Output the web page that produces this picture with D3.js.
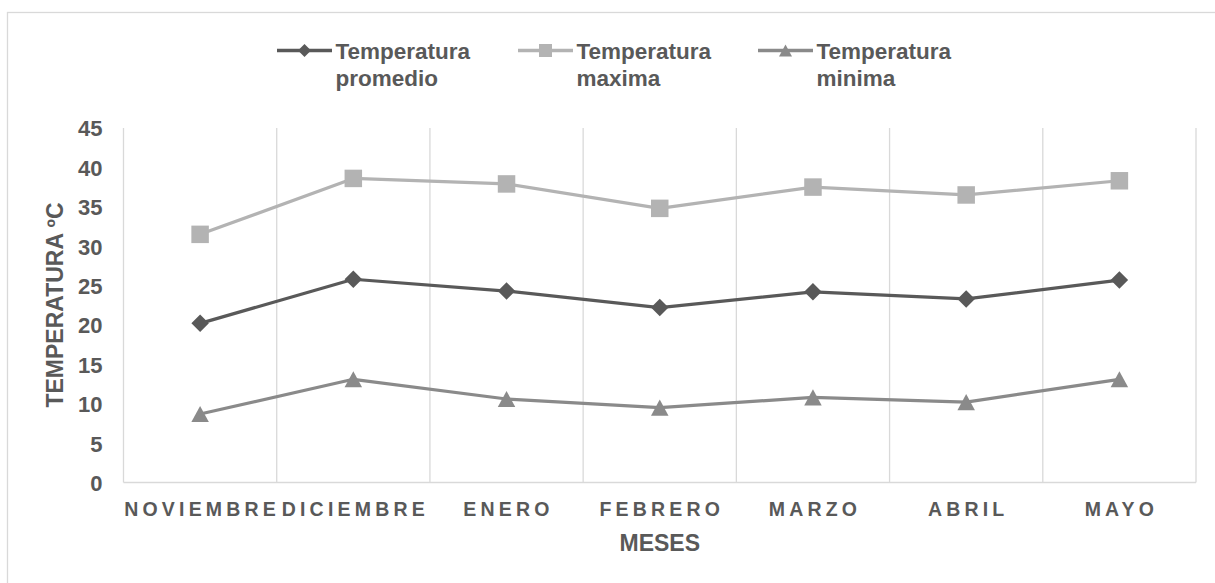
<!DOCTYPE html>
<html>
<head>
<meta charset="utf-8">
<script src="https://cdn.jsdelivr.net/npm/d3@7"></script>
<style>
  html, body { margin: 0; padding: 0; background: #fff; }
  svg { display: block; font-family: "Liberation Sans", Arial, sans-serif; }
</style>
</head>
<body>
<svg id="chart" width="1215" height="583"></svg>
<script>
// Monthly temperatures (ºC)
const meses = ["NOVIEMBRE", "DICIEMBRE", "ENERO", "FEBRERO", "MARZO", "ABRIL", "MAYO"];
const promedio = [20.2, 25.8, 24.3, 22.2, 24.2, 23.3, 25.7];
const maxima   = [31.5, 38.6, 37.9, 34.8, 37.5, 36.5, 38.3];
const minima   = [8.7, 13.1, 10.6, 9.5, 10.8, 10.2, 13.1];
const yTicks   = [0, 5, 10, 15, 20, 25, 30, 35, 40, 45];

const series = [
  { name: ["Temperatura", "promedio"], values: promedio, color: "#595959", symbol: "diamond" },
  { name: ["Temperatura", "maxima"],   values: maxima,   color: "#b3b3b3", symbol: "square" },
  { name: ["Temperatura", "minima"],   values: minima,   color: "#8a8a8a", symbol: "triangle" }
];

const textColor = "#595959";
const gridColor = "#d9d9d9";

const svg = d3.select("#chart");

// chart area frame
svg.append("rect")
  .attr("x", 7.5).attr("y", 12.5)
  .attr("width", 1240).attr("height", 620)
  .attr("fill", "none").attr("stroke", gridColor).attr("stroke-width", 1.3);

const plot = { left: 123.5, right: 1196, top: 128, bottom: 482.5 };

const x = d3.scaleBand().domain(meses).range([plot.left, plot.right]).padding(0);
const y = d3.scaleLinear().domain([0, 45]).range([plot.bottom, plot.top]);

// vertical gridlines at category boundaries
const bounds = meses.map(m => x(m)).concat([x.range()[1]]);
svg.append("g").selectAll("line").data(bounds).join("line")
  .attr("x1", d => d).attr("x2", d => d)
  .attr("y1", plot.top).attr("y2", plot.bottom)
  .attr("stroke", gridColor).attr("stroke-width", 1.3);

// horizontal axis line
svg.append("line")
  .attr("x1", plot.left).attr("x2", plot.right)
  .attr("y1", plot.bottom).attr("y2", plot.bottom)
  .attr("stroke", gridColor).attr("stroke-width", 1.5);

// y axis labels
const yAxis = d3.axisLeft(y).tickValues(yTicks).tickSize(0).tickPadding(21);
const gy = svg.append("g").attr("transform", `translate(${plot.left},0)`).call(yAxis);
gy.select(".domain").remove();
gy.selectAll("text")
  .attr("fill", textColor)
  .style("font-size", "22px").style("font-weight", "bold")
  .attr("dy", "0.36em");

// x axis labels
const xAxis = d3.axisBottom(x).tickSize(0).tickPadding(0);
const gx = svg.append("g").attr("transform", `translate(0,${plot.bottom})`).call(xAxis);
gx.select(".domain").remove();
gx.selectAll("text")
  .attr("fill", textColor)
  .attr("y", 33.5).attr("dy", 0)
  .attr("dx", 2)
  .style("font-size", "19.5px").style("font-weight", "bold")
  .style("letter-spacing", "4.2px");

// axis titles
svg.append("text")
  .attr("x", (plot.left + plot.right) / 2).attr("y", 550.5)
  .attr("text-anchor", "middle")
  .attr("fill", textColor)
  .style("font-size", "23px").style("font-weight", "bold")
  .text("MESES");

svg.append("text")
  .attr("transform", "translate(62.5,305) rotate(-90)")
  .attr("text-anchor", "middle")
  .attr("fill", textColor)
  .style("font-size", "23px").style("font-weight", "bold")
  .text("TEMPERATURA ºC");

// symbol path builders
function symbolPath(type, s) {
  const h = s / 2;
  if (type === "square") return `M${-h},${-h}H${h}V${h}H${-h}Z`;
  if (type === "diamond") return `M0,${-h}L${h},0L0,${h}L${-h},0Z`;
  const th = s * 0.92;
  return `M0,${-th / 2}L${h},${th / 2}L${-h},${th / 2}Z`;
}

const line = d3.line().x((d, i) => x(meses[i]) + x.bandwidth() / 2).y(d => y(d));

const gs = svg.append("g").selectAll("g").data(series).join("g");
gs.append("path")
  .attr("d", d => line(d.values))
  .attr("fill", "none")
  .attr("stroke", d => d.color)
  .attr("stroke-width", 3.2)
  .attr("stroke-linejoin", "round");
gs.each(function (s) {
  d3.select(this).selectAll("path.mk").data(s.values).join("path")
    .attr("class", "mk")
    .attr("transform", (d, i) => `translate(${x(meses[i]) + x.bandwidth() / 2},${y(d)})`)
    .attr("d", symbolPath(s.symbol, 17.5))
    .attr("fill", s.color);
});

// legend
const legendX = [277, 518, 758];
const lg = svg.append("g").selectAll("g").data(series).join("g")
  .attr("transform", (d, i) => `translate(${legendX[i]},50.5)`);
lg.append("line")
  .attr("x1", 0).attr("x2", 55)
  .attr("stroke", d => d.color).attr("stroke-width", 3.3);
lg.append("path")
  .attr("transform", "translate(27.5,0)")
  .attr("d", d => symbolPath(d.symbol, 13))
  .attr("fill", d => d.color);
lg.append("text")
  .attr("x", 58.5).attr("y", 8)
  .attr("fill", textColor)
  .style("font-size", "22.5px").style("font-weight", "bold")
  .selectAll("tspan").data(d => d.name).join("tspan")
  .attr("x", 58.5)
  .attr("dy", (d, i) => i === 0 ? 0 : 27)
  .text(d => d);
</script>
</body>
</html>
